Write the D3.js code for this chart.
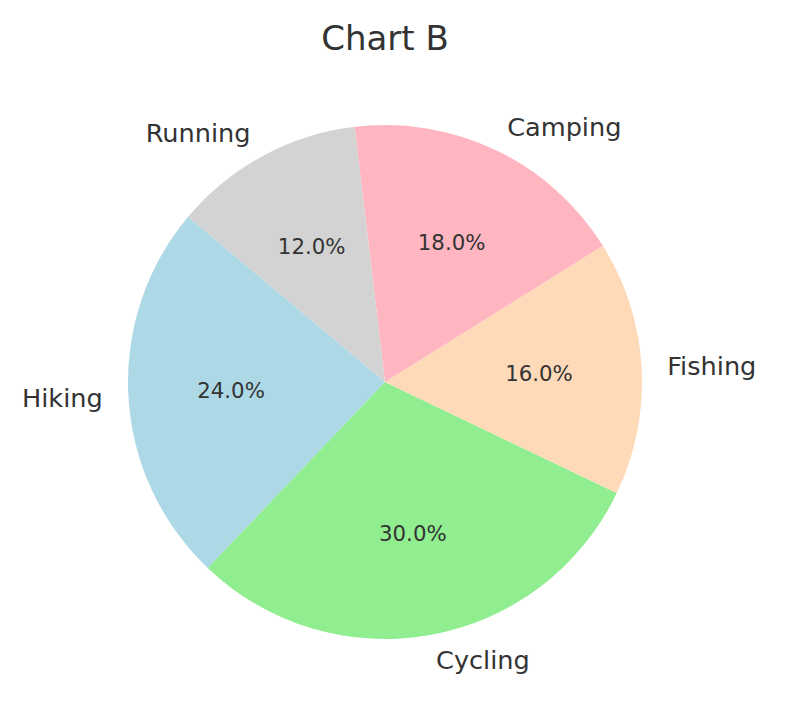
<!DOCTYPE html>
<html><head><meta charset="utf-8">
<script src="https://cdn.jsdelivr.net/npm/d3@7"></script>
<style>body{margin:0;background:#fff}svg{display:block}</style>
</head><body>
<svg id="c" width="796" height="704"></svg>
<script>
const categories = ["Hiking", "Cycling", "Fishing", "Camping", "Running"];
const values = [24, 30, 16, 18, 12];
const colors = ["#add8e6", "#90ee90", "#ffdab9", "#ffb6c1", "#d3d3d3"];
const title = "Chart B";

const W = 796, H = 704, cx = 385, cy = 382, R = 257;
const svg = d3.select("#c");
const font = "DejaVu Sans, sans-serif";
const data = categories.map((c, i) => ({cat: c, v: values[i], color: colors[i]}));
const total = d3.sum(values);
const start = (90 - 140) * Math.PI / 180;
const pie = d3.pie().value(d => d.v).sort(null).startAngle(start).endAngle(start - 2 * Math.PI);
const arcs = pie(data);
const arc = d3.arc().innerRadius(0).outerRadius(R);
const g = svg.append("g").attr("transform", `translate(${cx},${cy})`);
g.selectAll("path").data(arcs).enter().append("path")
  .attr("d", arc).attr("fill", d => d.data.color);

const mid = d => (d.startAngle + d.endAngle) / 2;
g.selectAll("text.lab").data(arcs).enter().append("text")
  .attr("class", "lab")
  .attr("x", d => 1.1 * R * Math.sin(mid(d)))
  .attr("y", d => -1.1 * R * Math.cos(mid(d)))
  .attr("text-anchor", d => Math.sin(mid(d)) > 0 ? "start" : "end")
  .attr("dominant-baseline", "central")
  .attr("font-family", font).attr("font-size", 25.6).attr("fill", "#333")
  .text(d => d.data.cat);

g.selectAll("text.pct").data(arcs).enter().append("text")
  .attr("class", "pct")
  .attr("x", d => 0.6 * R * Math.sin(mid(d)))
  .attr("y", d => -0.6 * R * Math.cos(mid(d)))
  .attr("text-anchor", "middle")
  .attr("dominant-baseline", "central")
  .attr("font-family", font).attr("font-size", 21.3).attr("fill", "#333")
  .text(d => (d.data.v / total * 100).toFixed(1) + "%");

svg.append("text").attr("x", cx).attr("y", 38)
  .attr("text-anchor", "middle").attr("dominant-baseline", "central")
  .attr("font-family", font).attr("font-size", 34).attr("fill", "#333")
  .text(title);
</script>
</body></html>
